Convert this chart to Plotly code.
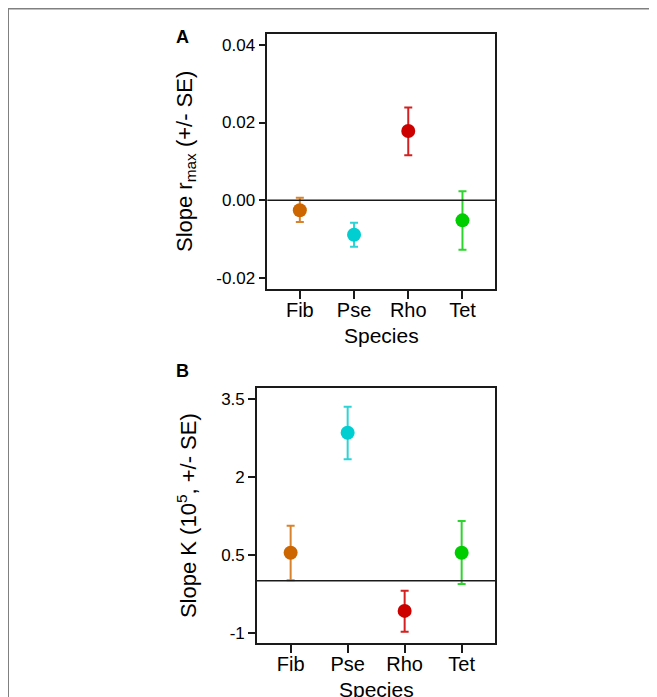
import plotly.graph_objects as go

# The page has an 8px body margin, so the figure is 8px smaller and all
# reference pixel positions are offset by 8.
OFF = 8
W, H = 657 - OFF, 697 - OFF

species = ["Fib", "Pse", "Rho", "Tet"]
colors = ["#CD6600", "#00CED1", "#CD0000", "#00CD00"]
bar_colors = ["#D9822B", "#2ED3D6", "#D42020", "#2ED42E"]

rmax_slope = [-0.0026, -0.0089, 0.0178, -0.0052]
rmax_upper = [0.0006, -0.0058, 0.0239, 0.0023]
rmax_lower = [-0.0056, -0.0120, 0.0116, -0.0128]

k_slope = [0.54, 2.85, -0.58, 0.54]
k_upper = [1.06, 3.35, -0.19, 1.15]
k_lower = [0.01, 2.34, -0.98, -0.06]

rmax_ticks = [-0.02, 0.0, 0.02, 0.04]
rmax_ticktext = ["-0.02", "0.00", "0.02", "0.04"]
k_ticks = [-1, 0.5, 2, 3.5]
k_ticktext = ["-1", "0.5", "2", "3.5"]

FONT = "Arial, Liberation Sans, sans-serif"

fig = go.Figure()

def add_points(vals, up, lo, xa, ya):
    for i, sp in enumerate(species):
        fig.add_trace(go.Scatter(
            x=[sp], y=[vals[i]], mode="markers", xaxis=xa, yaxis=ya,
            marker=dict(color=colors[i], size=14, line=dict(width=0)),
            error_y=dict(type="data", symmetric=False,
                         array=[up[i] - vals[i]], arrayminus=[vals[i] - lo[i]],
                         color=bar_colors[i], thickness=2, width=4),
            showlegend=False, hoverinfo="skip"))

add_points(rmax_slope, rmax_upper, rmax_lower, "x", "y")
add_points(k_slope, k_upper, k_lower, "x2", "y2")

def px(x):
    return (x - OFF) / W

def py(y):
    return 1 - (y - OFF) / H

axis_common = dict(showline=True, linecolor="#1a1a1a", linewidth=1.6, mirror=True,
                   showgrid=False, zeroline=False, ticks="outside", tickcolor="#1a1a1a",
                   tickwidth=1.5, automargin=False,
                   tickfont=dict(family=FONT, size=17, color="black"))
xtick_font = dict(family=FONT, size=20, color="black")

fig.update_layout(
    width=W, height=H, margin=dict(l=0, r=0, t=0, b=0),
    paper_bgcolor="white", plot_bgcolor="white",
    font=dict(family=FONT, color="black"),
    xaxis=dict(**{**axis_common, "tickfont": xtick_font},
               domain=[px(267.3), px(495)], anchor="y",
               type="category", categoryorder="array", categoryarray=species,
               range=[-0.6, 3.6], ticklen=8, ticklabelstandoff=-6),
    yaxis=dict(**{**axis_common, "automargin": True}, domain=[py(288.7), py(34)], anchor="x",
               range=[-0.0228, 0.0428], tickvals=rmax_ticks, ticktext=rmax_ticktext, ticklen=7,
               title=dict(text="Slope r<sub>max</sub> (+/- SE)", font=dict(family=FONT, size=22), standoff=18)),
    xaxis2=dict(**{**axis_common, "tickfont": xtick_font},
                domain=[px(257), px(495.3)], anchor="y2",
                type="category", categoryorder="array", categoryarray=species,
                range=[-0.59, 3.59], ticklen=8, ticklabelstandoff=-6),
    yaxis2=dict(**{**axis_common, "automargin": True}, domain=[py(643), py(388.3)], anchor="x2",
                range=[-1.198, 3.706], tickvals=k_ticks, ticktext=k_ticktext, ticklen=7,
                title=dict(text="Slope K (10<sup>5</sup>, +/- SE)", font=dict(family=FONT, size=22), standoff=18)),
)

# x-axis titles, placed below each panel's domain
for xd, yd in (("x domain", "y domain"), ("x2 domain", "y2 domain")):
    fig.add_annotation(text="Species", xref=xd, yref=yd, x=0.5, y=0, yshift=-46.5,
                       xanchor="center", yanchor="middle", showarrow=False,
                       font=dict(family=FONT, size=21, color="black"))

# zero reference lines
fig.add_shape(type="line", xref="x domain", yref="y", x0=0, x1=1, y0=0, y1=0,
              line=dict(color="#1a1a1a", width=1.5))
fig.add_shape(type="line", xref="x2 domain", yref="y2", x0=0, x1=1, y0=0, y1=0,
              line=dict(color="#1a1a1a", width=1.5))

# figure frame (top and left)
fig.add_shape(type="line", xref="paper", yref="paper", x0=px(8), x1=1, y0=py(8.5), y1=py(8.5),
              line=dict(color="#808080", width=2))
fig.add_shape(type="line", xref="paper", yref="paper", x0=px(8), x1=px(8), y0=0, y1=py(8.5),
              line=dict(color="#808080", width=2))

# panel letters
fig.add_annotation(text="<b>A</b>", xref="paper", yref="paper", x=px(182), y=py(37),
                   xanchor="center", yanchor="middle",
                   showarrow=False, font=dict(family=FONT, size=18, color="black"))
fig.add_annotation(text="<b>B</b>", xref="paper", yref="paper", x=px(182), y=py(371),
                   xanchor="center", yanchor="middle",
                   showarrow=False, font=dict(family=FONT, size=18, color="black"))

fig.write_html("out.html")
